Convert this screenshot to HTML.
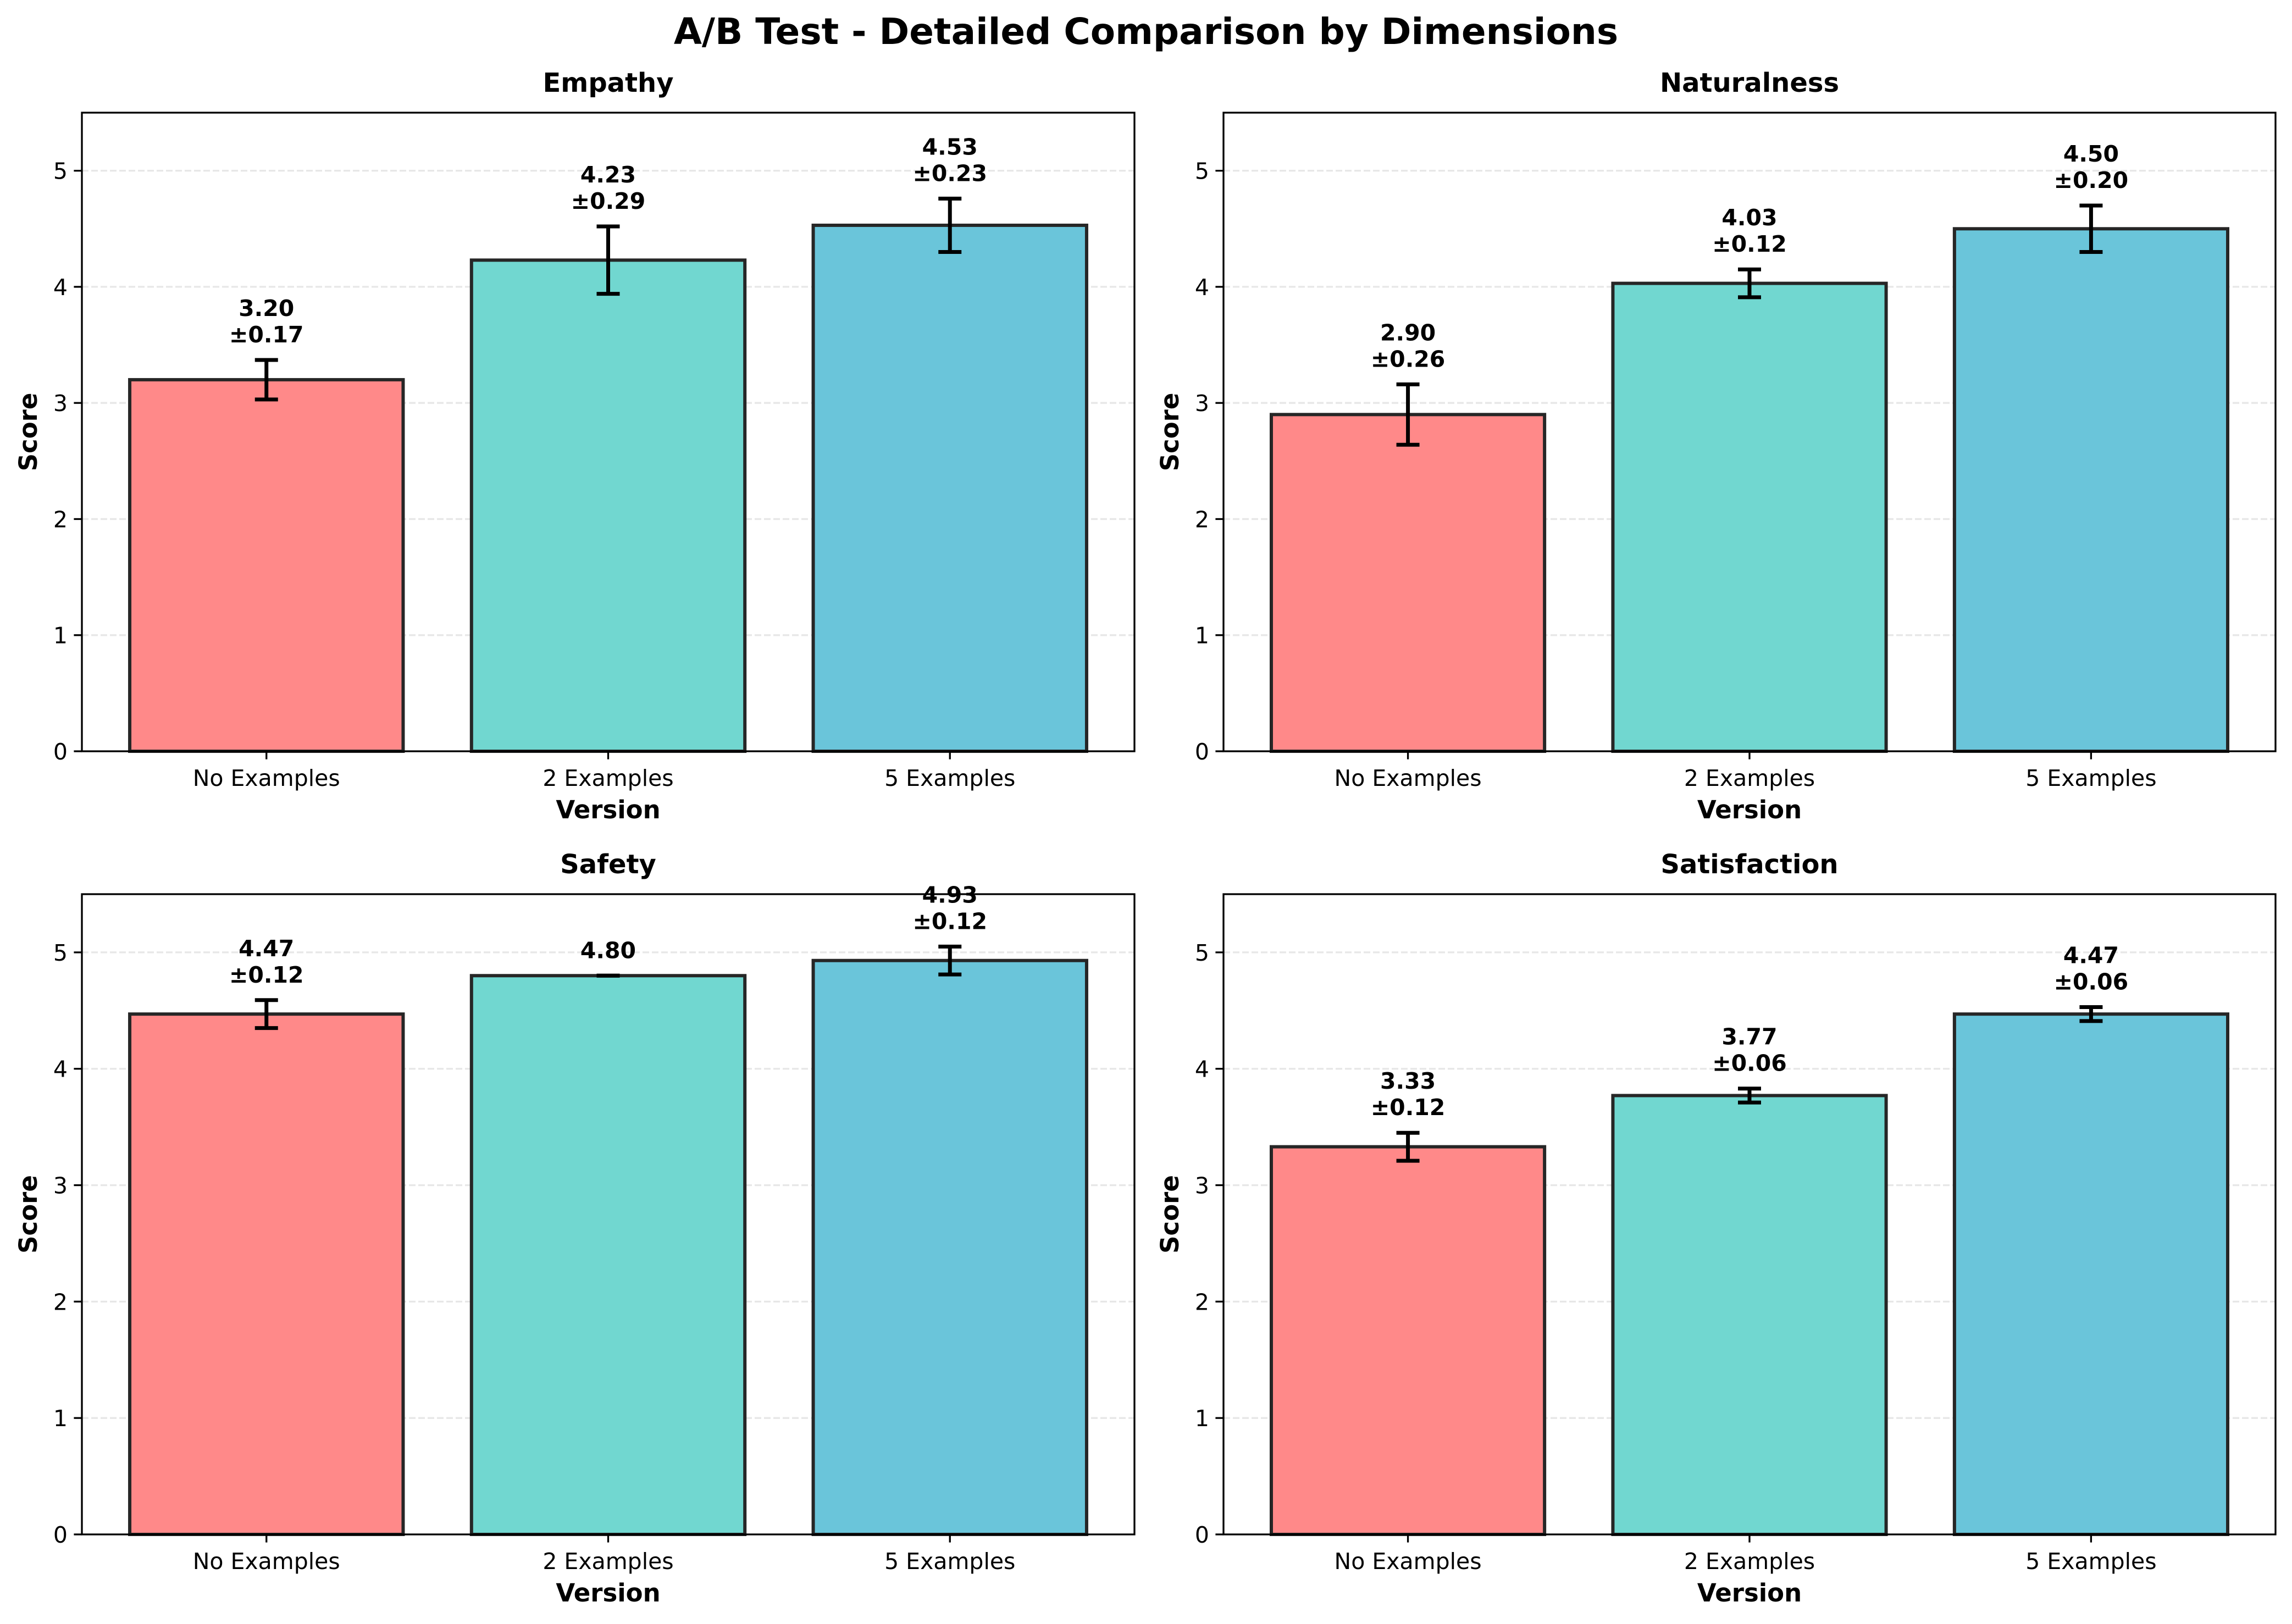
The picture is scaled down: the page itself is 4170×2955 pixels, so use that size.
<!DOCTYPE html>
<html><head><meta charset="utf-8"><style>
html,body{margin:0;padding:0;background:#fff;}
svg{display:block;font-family:"DejaVu Sans","Liberation Sans",sans-serif;}
</style></head><body>
<svg id="fig" width="4170" height="2955" viewBox="0 0 4170 2955" xmlns="http://www.w3.org/2000/svg">
<text x="2085" y="80" text-anchor="middle" font-size="66" font-weight="bold">A/B Test - Detailed Comparison by Dimensions</text>
</svg>
<script>
const categories = ["No Examples", "2 Examples", "5 Examples"];
const panelTitles = ["Empathy", "Naturalness", "Safety", "Satisfaction"];
const empathyMeans = [3.20, 4.23, 4.53];
const empathyStds = [0.17, 0.29, 0.23];
const naturalnessMeans = [2.90, 4.03, 4.50];
const naturalnessStds = [0.26, 0.12, 0.20];
const safetyMeans = [4.47, 4.80, 4.93];
const safetyStds = [0.12, 0.00, 0.12];
const satisfactionMeans = [3.33, 3.77, 4.47];
const satisfactionStds = [0.12, 0.06, 0.06];
const yTicks = [0, 1, 2, 3, 4, 5];

const allMeans = [empathyMeans, naturalnessMeans, safetyMeans, satisfactionMeans];
const allStds = [empathyStds, naturalnessStds, safetyStds, satisfactionStds];
const colors = ["#ff8989", "#71d7d0", "#6ac5da"];
const NS = "http://www.w3.org/2000/svg";
const svg = document.getElementById("fig");
const panels = [
  {l:149, r:2064, t:205, b:1367},
  {l:2226, r:4140, t:205, b:1367},
  {l:149, r:2064, t:1627, b:2792},
  {l:2226, r:4140, t:1627, b:2792}
];
function mk(tag, attrs, parent){
  const e = document.createElementNS(NS, tag);
  for (const k in attrs) e.setAttribute(k, attrs[k]);
  (parent||svg).appendChild(e);
  return e;
}
panels.forEach((p, pi) => {
  const g = mk("g", {});
  
  
  const xmin = -0.54, xmax = 2.54, ymax = 5.5;
  const X = v => p.l + (v - xmin) / (xmax - xmin) * (p.r - p.l);
  const Y = v => p.b - v / ymax * (p.b - p.t);
  yTicks.forEach(t => {
    if (t === 0) return;
    const gl = mk("line", {x1:p.l, x2:p.r, y1:Y(t), y2:Y(t), stroke:"#b0b0b0", "stroke-opacity":"0.3", "stroke-width":"3.3", "stroke-dasharray":"12,5"}, g);
    
    
  });
  const means = allMeans[pi], stds = allStds[pi];
  const bw = 0.8;
  means.forEach((m, i) => {
    const x0 = X(i - bw/2), x1 = X(i + bw/2);
    const bar = mk("rect", {x:x0, y:Y(m), width:x1-x0, height:Y(0)-Y(m), fill:colors[i], stroke:"#262626", "stroke-width":"6"}, g);
    
    
  });
  means.forEach((m, i) => {
    const s = stds[i], cx = X(i);
    const eb = mk("g", {stroke:"#000", "stroke-width":"7"}, g);
    
    
    mk("line", {x1:cx, x2:cx, y1:Y(m-s), y2:Y(m+s)}, eb);
    mk("line", {x1:cx-21, x2:cx+21, y1:Y(m-s), y2:Y(m-s)}, eb);
    mk("line", {x1:cx-21, x2:cx+21, y1:Y(m+s), y2:Y(m+s)}, eb);
    const ty = Y(m+s) - 47;
    const lbl = mk("text", {x:cx, "text-anchor":"middle", "font-size":"41", "font-weight":"bold"}, g);
    
    
    if (s > 0) {
      const t1 = mk("tspan", {x:cx, y:ty - 48 + 15}, lbl); t1.textContent = m.toFixed(2);
      const t2 = mk("tspan", {x:cx, y:ty + 15}, lbl); t2.textContent = "\u00b1" + s.toFixed(2);
    } else {
      const t1 = mk("tspan", {x:cx, y:ty + 15}, lbl); t1.textContent = m.toFixed(2);
    }
  });
  const fr = mk("rect", {x:p.l, y:p.t, width:p.r-p.l, height:p.b-p.t, fill:"none", stroke:"#000", "stroke-width":"3.3"}, g);
  
  
  yTicks.forEach(t => {
    mk("line", {x1:p.l-14.6, x2:p.l, y1:Y(t), y2:Y(t), stroke:"#000", "stroke-width":"3.3"}, g);
    const tl = mk("text", {x:p.l-26, y:Y(t)+15, "text-anchor":"end", "font-size":"41"}, g);
    
    
    tl.textContent = t;
  });
  categories.forEach((c, i) => {
    mk("line", {x1:X(i), x2:X(i), y1:p.b, y2:p.b+14.6, stroke:"#000", "stroke-width":"3.3"}, g);
    const xl = mk("text", {x:X(i), y:p.b+63, "text-anchor":"middle", "font-size":"41"}, g);
    
    
    xl.textContent = c;
  });
  const xt = mk("text", {x:(p.l+p.r)/2, y:p.b+122, "text-anchor":"middle", "font-size":"45", "font-weight":"bold"}, g);
  
  
  xt.textContent = "Version";
  const yc = (p.t+p.b)/2, yx = p.l - 82;
  const yt = mk("text", {x:yx, y:yc, "text-anchor":"middle", "font-size":"45", "font-weight":"bold", transform:`rotate(-90 ${yx} ${yc})`}, g);
  
  
  yt.textContent = "Score";
  const st = mk("text", {x:(p.l+p.r)/2, y:p.t-38, "text-anchor":"middle", "font-size":"48", "font-weight":"bold"}, g);
  
  
  st.textContent = panelTitles[pi];
});
</script>
</body></html>
